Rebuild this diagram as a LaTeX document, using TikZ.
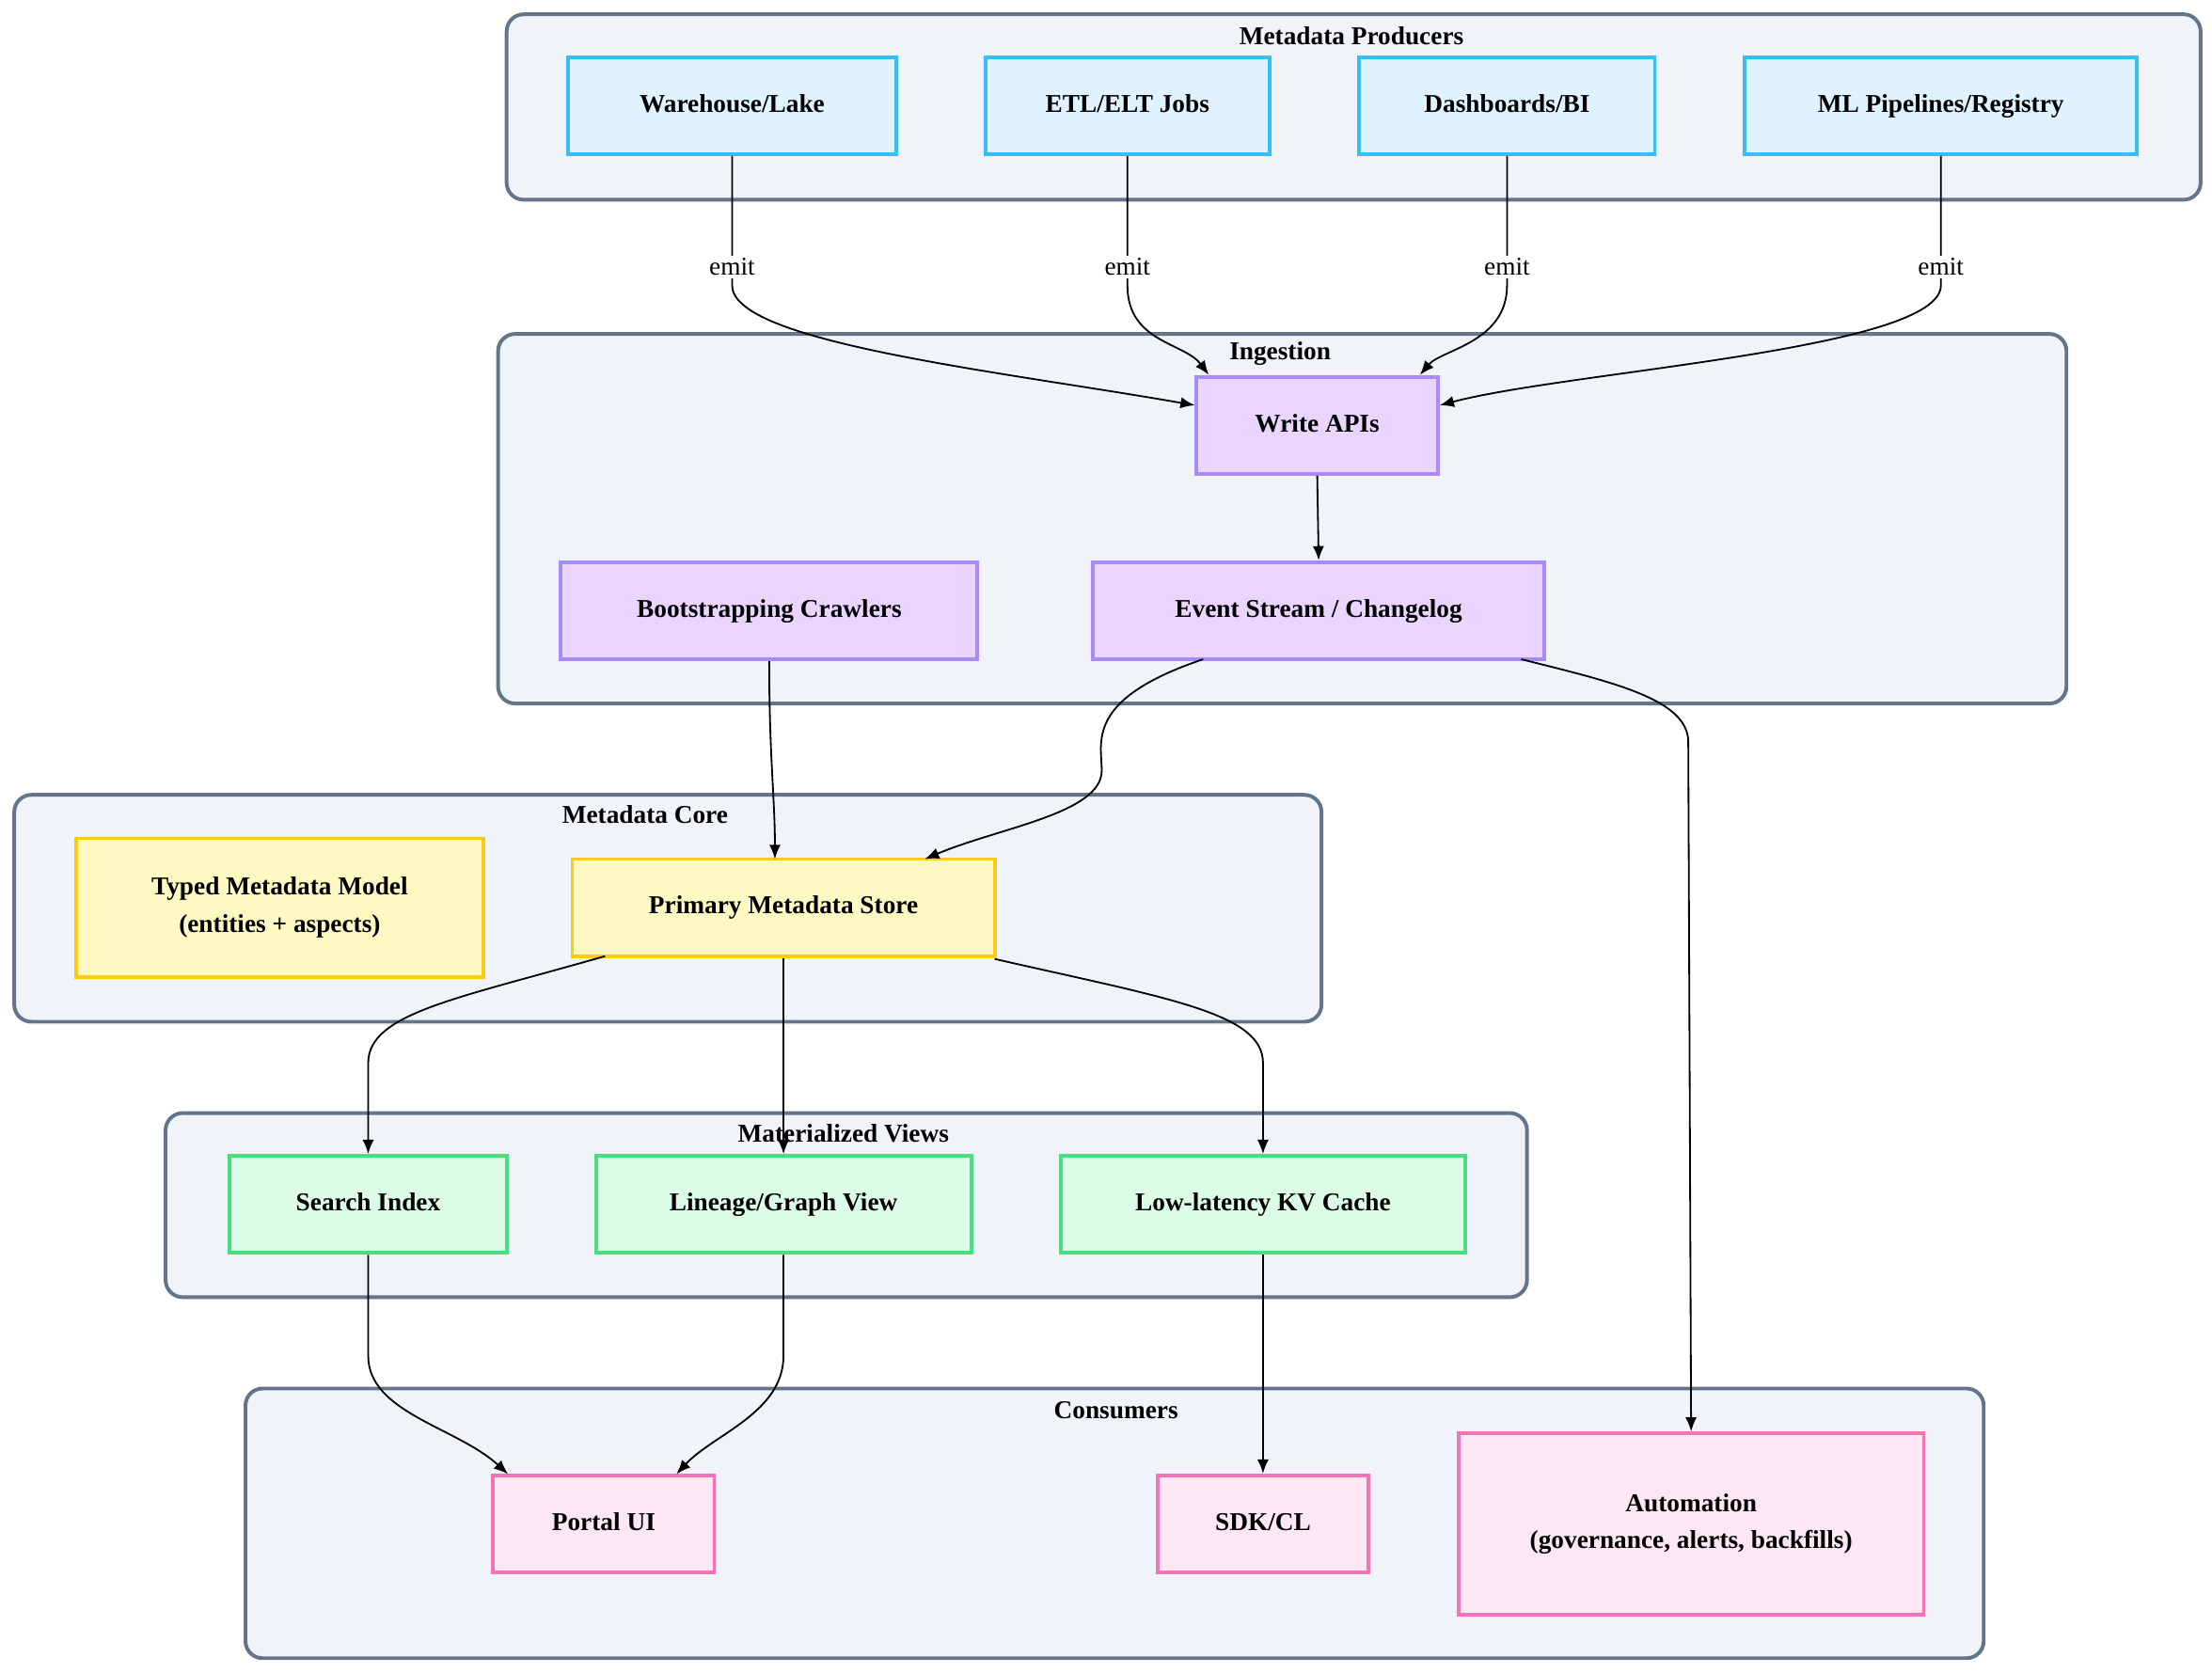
\documentclass[tikz,border=0pt]{standalone}
\usepackage{fontspec}
\setmainfont{Liberation Serif}
\usetikzlibrary{arrows.meta}
\definecolor{grpf}{HTML}{F0F3F8}\definecolor{grpd}{HTML}{64748B}
\definecolor{pf}{HTML}{E0F2FE}\definecolor{pd}{HTML}{38BDF8}
\definecolor{if}{HTML}{E9D5FF}\definecolor{id}{HTML}{A78BFA}
\definecolor{cf}{HTML}{FEF9C3}\definecolor{cd}{HTML}{FACC15}
\definecolor{vf}{HTML}{DCFCE7}\definecolor{vd}{HTML}{4ADE80}
\definecolor{kf}{HTML}{FCE7F3}\definecolor{kd}{HTML}{F472B6}
\begin{document}
\begin{tikzpicture}[x=0.5pt,y=-0.5pt,
 grp/.style={draw=grpd,fill=grpf,line width=1.3pt,rounded corners=6pt},
 gt/.style={font=\fontsize{9}{11}\selectfont\bfseries},
 box/.style={line width=1.3pt,font=\fontsize{9}{11}\selectfont\bfseries,align=center,inner sep=0pt},
 sbox/.style={box,text height=6.5pt,text depth=2pt},
 prod/.style={sbox,draw=pd,fill=pf},
 ing/.style={sbox,draw=id,fill=if},
 core/.style={box,draw=cd,fill=cf},
 view/.style={sbox,draw=vd,fill=vf},
 cons/.style={box,draw=kd,fill=kf},
 arr/.style={-{Latex[length=5pt,width=4pt]},line width=0.6pt},
 lbl/.style={fill=white,font=\fontsize{9}{11}\selectfont,inner sep=1pt}]
\useasboundingbox (0,0) rectangle (1550,1172);
% groups
\draw[grp] (355,10) rectangle (1542,140); \node[gt] at (947,25) {Metadata Producers};
\draw[grp] (349,234) rectangle (1448,493); \node[gt] at (897,248) {Ingestion};
\draw[grp] (10,557) rectangle (926,716); \node[gt] at (452,571) {Metadata Core};
\draw[grp] (116,780) rectangle (1070,909); \node[gt] at (591,794) {Materialized Views};
\draw[grp] (172,973) rectangle (1390,1162); \node[gt] at (782,988) {Consumers};
% nodes
\node[prod,minimum width=115pt,minimum height=34pt] (wh) at (513,74) {Warehouse/Lake};
\node[prod,minimum width=99.5pt,minimum height=34pt] (etl) at (790,74) {ETL/ELT Jobs};
\node[prod,minimum width=103.5pt,minimum height=34pt] (bi) at (1056,74) {Dashboards/BI};
\node[prod,minimum width=137.5pt,minimum height=34pt] (ml) at (1360,74) {ML Pipelines/Registry};
\node[ing,minimum width=84.5pt,minimum height=34pt] (api) at (923,298) {Write APIs};
\node[ing,minimum width=146pt,minimum height=34pt] (bc) at (539,428) {Bootstrapping Crawlers};
\node[ing,minimum width=158pt,minimum height=34pt] (es) at (924,428) {Event Stream / Changelog};
\node[core,minimum width=142.5pt,minimum height=48.5pt] (tm) at (196,636) {Typed Metadata Model\\[2pt](entities + aspects)};
\node[core,minimum width=148pt,minimum height=34pt,text height=6.5pt,text depth=2pt] (pm) at (549,636) {Primary Metadata Store};
\node[view,minimum width=97.5pt,minimum height=34pt] (si) at (258,844) {Search Index};
\node[view,minimum width=131.5pt,minimum height=34pt] (lg) at (549,844) {Lineage/Graph View};
\node[view,minimum width=141.5pt,minimum height=34pt] (kv) at (885,844) {Low-latency KV Cache};
\node[cons,minimum width=77.5pt,minimum height=34pt,text height=6.5pt,text depth=2pt] (ui) at (423,1068) {Portal UI};
\node[cons,minimum width=74pt,minimum height=34pt,text height=6.5pt,text depth=2pt] (sdk) at (885,1068) {SDK/CL};
\node[cons,minimum width=163pt,minimum height=63.5pt] (au) at (1185,1068) {Automation\\[2pt](governance, alerts, backfills)};
% edges
\draw[arr] (wh.south) -- (513,187) node[lbl]{emit} -- (513,200) .. controls (513,240) and (700,260) .. ([yshift=7pt]api.west);
\draw[arr] (etl.south) -- (790,187) node[lbl]{emit} -- (790,200) .. controls (790,240) and (830,240) .. ([xshift=-38pt]api.north);
\draw[arr] (bi.south) -- (1056,187) node[lbl]{emit} -- (1056,200) .. controls (1056,240) and (1010,245) .. ([xshift=36pt]api.north);
\draw[arr] (ml.south) -- (1360,187) node[lbl]{emit} -- (1360,200) .. controls (1360,245) and (1100,260) .. ([yshift=7pt]api.east);
\draw[arr] (api.south) -- (es.north);
\draw[arr] ([xshift=0pt]bc.south) .. controls (539,530) and (543,560) .. (543,602);
\draw[arr] (843,462) .. controls (760,490) and (772,520) .. (772,540) .. controls (772,570) and (700,580) .. (648,602);
\draw[arr] (1066,462) .. controls (1130,478) and (1183,490) .. (1183,520) -- (au.north);
\draw[arr] (424,670) .. controls (320,700) and (258,710) .. (258,745) -- (si.north);
\draw[arr] (pm.south) -- (lg.north);
\draw[arr] (697,672) .. controls (820,700) and (885,710) .. (885,745) -- (kv.north);
\draw[arr] (si.south) -- (258,950) .. controls (258,990) and (320,1000) .. (356,1033);
\draw[arr] (lg.south) -- (549,950) .. controls (549,990) and (500,1005) .. (474,1033);
\draw[arr] (kv.south) -- (sdk.north);
\end{tikzpicture}
\end{document}
